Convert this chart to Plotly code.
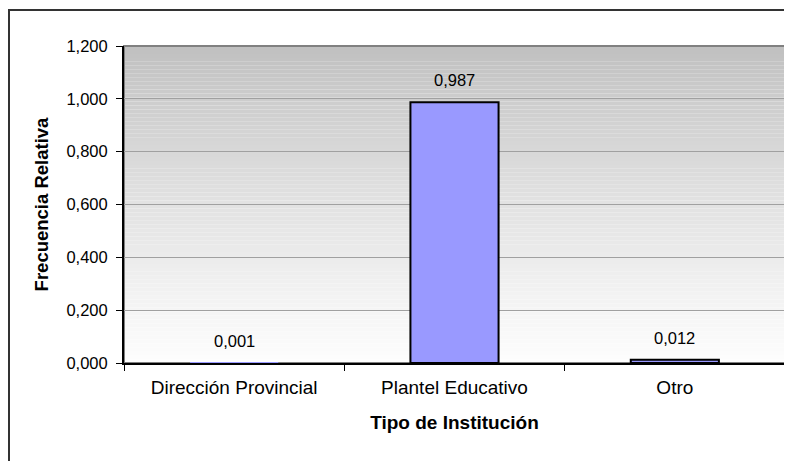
import plotly.graph_objects as go

categorias = ["Dirección Provincial", "Plantel Educativo", "Otro"]
frecuencias = [0.001, 0.987, 0.012]
y_ticks = [0.0, 0.2, 0.4, 0.6, 0.8, 1.0, 1.2]

FONT = "Liberation Sans, Arial, sans-serif"

# la pagina tiene 8px de margen en el body: se compensa aqui
W, H = 784, 453
ML, MR, MT, MB = 116, 7, 38, 98
PW, PH = W - ML - MR, H - MT - MB

# barras casi nulas: el borde queda oculto bajo el eje, como en el original
bordes = [2 if v >= 0.005 else 0 for v in frecuencias]

fig = go.Figure(go.Bar(
    x=categorias, y=frecuencias,
    marker=dict(color="#9999FF", line=dict(color="black", width=bordes)),
    width=0.4,
    hoverinfo="x+y",
))

# fondo degradado del area de trazado (gris arriba, blanco abajo)
shapes = []
n = 80
for i in range(n):
    t = i / (n - 1)
    g = int(192 + (254 - 192) * t ** 0.85)
    shapes.append(dict(
        type="rect", xref="x domain", yref="y domain",
        x0=0, x1=1, y0=1 - (i + 1) / n, y1=1 - i / n,
        fillcolor=f"rgb({g},{g},{g})", line=dict(width=0), layer="below",
    ))
# borde gris del area de trazado
shapes.append(dict(type="rect", xref="x domain", yref="y domain",
                   x0=0, x1=1, y0=0, y1=1,
                   line=dict(color="#808080", width=2), layer="below"))
# marco exterior del grafico
shapes.append(dict(type="rect", xref="paper", yref="paper",
                   x0=(1 - ML) / PW, x1=1.2, y0=-0.5, y1=1 + (MT - 2) / PH,
                   line=dict(color="#333333", width=2), fillcolor="rgba(0,0,0,0)"))

annotations = [
    dict(x=c, y=v, xref="x", yref="y", text=f"{v:.3f}".replace(".", ","),
         showarrow=False, yshift=22, font=dict(size=16.5, color="black", family=FONT))
    for c, v in zip(categorias, frecuencias)
]

fig.update_layout(
    width=W, height=H,
    margin=dict(l=ML, r=MR, t=MT, b=MB),
    paper_bgcolor="white", plot_bgcolor="white",
    separators=",.",
    font=dict(family=FONT, size=16, color="black"),
    showlegend=False,
    shapes=shapes,
    annotations=annotations,
    xaxis=dict(
        title=dict(text="<b>Tipo de Institución</b>", standoff=19,
                   font=dict(size=19)),
        tickfont=dict(size=19),
        showline=True, linecolor="black", linewidth=2,
        ticks="outside", tickson="boundaries", ticklen=6, tickcolor="black",
        ticklabelstandoff=6,
        showgrid=False,
    ),
    yaxis=dict(
        title=dict(text="<b>Frecuencia Relativa</b>", standoff=13,
                   font=dict(size=18.5)),
        tickfont=dict(size=16.5),
        range=[0, 1.2], tickvals=y_ticks, tickformat=".3f",
        showline=True, linecolor="black", linewidth=2,
        ticks="outside", ticklen=6, tickcolor="black",
        ticklabelstandoff=5,
        showgrid=True, gridcolor="#a0a0a0", gridwidth=1,
        zeroline=False,
    ),
)

fig.write_html("out.html")
